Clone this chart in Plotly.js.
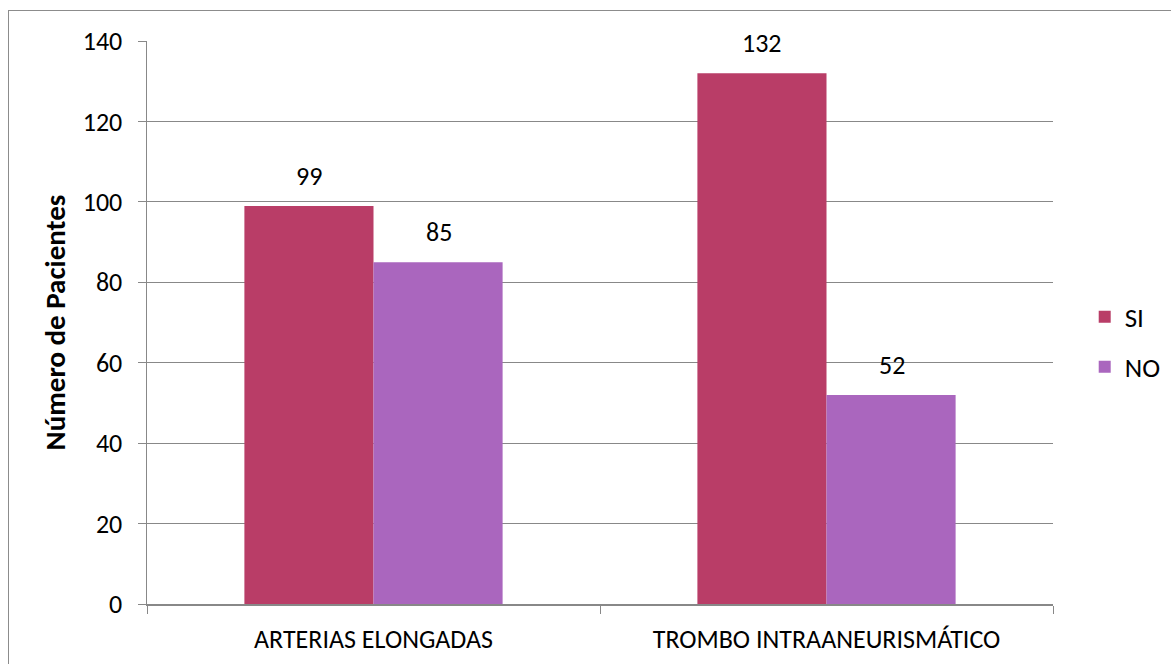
<!DOCTYPE html>
<html><head><meta charset="utf-8">
<script src="https://cdn.plot.ly/plotly-3.0.1.min.js"></script>
<style>body{margin:0;background:#fff;} #wrap{position:relative;width:1171px;height:664px;overflow:hidden;} #frame{position:absolute;left:8px;top:10px;width:1200px;height:700px;border:1px solid #8c8c8c;pointer-events:none;}</style>
</head><body><div id="wrap"><div id="chart" style="width:1171px;height:664px;"></div><div id="frame"></div></div>
<script>
const categories = ["ARTERIAS ELONGADAS", "TROMBO INTRAANEURISMÁTICO"];
const siValues = [99, 132];
const noValues = [85, 52];
const yTicks = [0, 20, 40, 60, 80, 100, 120, 140];

const fontFam = "Carlito, 'Open Sans', 'Liberation Sans', sans-serif";
const traces = [
  {type:'bar', name:'SI', x:categories, y:siValues, marker:{color:'#B93D67'}, legendgroup:'a'},
  {type:'bar', name:'NO', x:categories, y:noValues, marker:{color:'#AA66BE'}, legendgroup:'b'}
];
const annotations = [];
[[siValues, -65], [noValues, 65]].forEach(([vals, dx]) => {
  vals.forEach((v, i) => {
    annotations.push({x: categories[i], y: v, xref:'x', yref:'y', text: String(v), showarrow:false,
      xanchor:'center', yanchor:'bottom', xshift: dx, yshift: 12, font:{size:26, color:'#000'}});
  });
});
const layout = {
  width:1171, height:664,
  margin:{l:147, r:118, t:41, b:60, autoexpand:false},
  paper_bgcolor:'#fff', plot_bgcolor:'#fff',
  font:{family:fontFam, color:'#000', size:26},
  barmode:'group', bargap:0.43, bargroupgap:0,
  showlegend:true,
  annotations: annotations,
  legend:{x:1.035, y:0.465, xanchor:'left', yanchor:'middle', font:{size:27}, tracegroupgap:12, bgcolor:'rgba(0,0,0,0)', itemwidth:30},
  xaxis:{type:'category', showline:true, linecolor:'#888', linewidth:1.5, ticks:'outside', tickson:'boundaries', ticklen:8, tickcolor:'#888', tickfont:{size:26}, ticklabelstandoff:11, showgrid:false},
  yaxis:{range:[0,140], tickvals:yTicks, showline:true, linecolor:'#888', linewidth:1.5, ticks:'outside', ticklen:8, tickcolor:'#888', gridcolor:'#888', gridwidth:1, zeroline:false, tickfont:{size:26}, ticklabelstandoff:10,
    title:{text:'<b>Número de Pacientes</b>', font:{size:29}, standoff:8}}
};
Plotly.newPlot('chart', traces, layout, {displayModeBar:false, staticPlot:true});
</script></body></html>
